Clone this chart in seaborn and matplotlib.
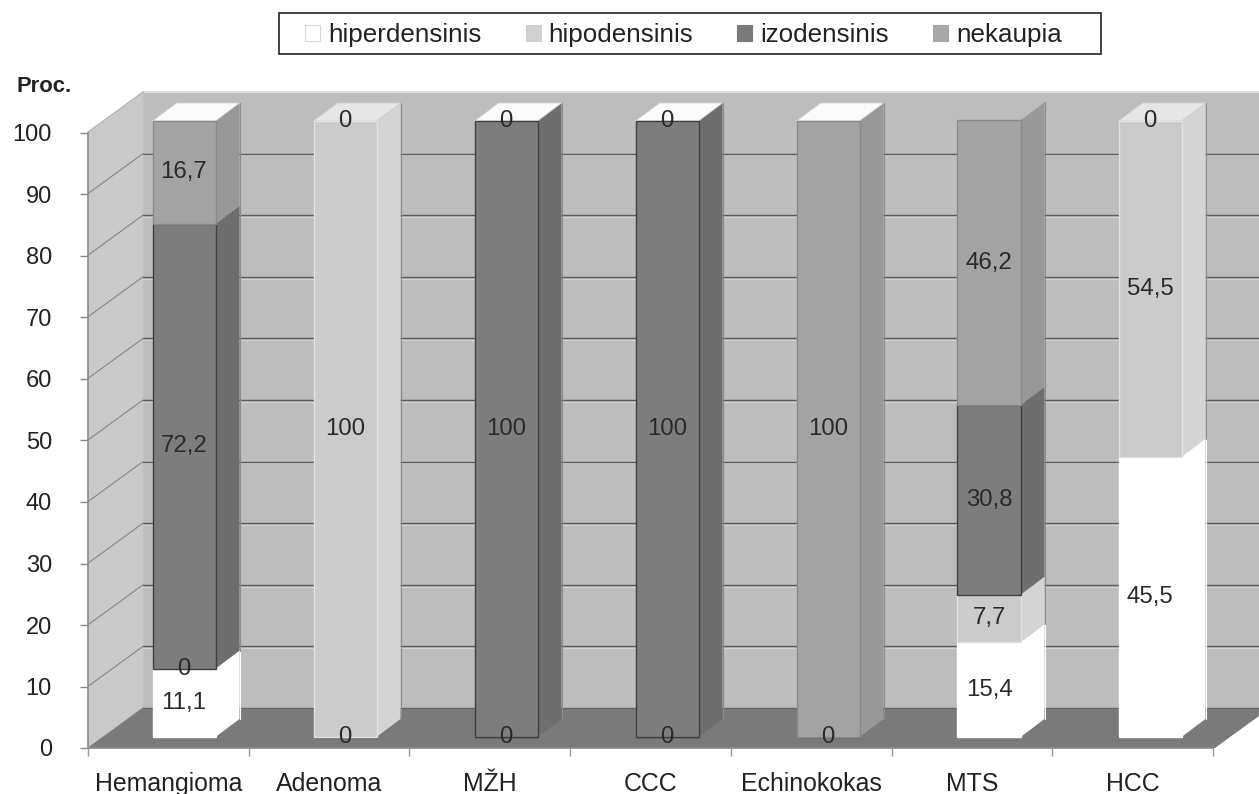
import seaborn as sns
import pandas as pd
import matplotlib.pyplot as plt
from matplotlib.patches import Patch, Rectangle

categories = ["Hemangioma", "Adenoma", "MŽH", "CCC", "Echinokokas", "MTS", "HCC"]
series_names = ["hiperdensinis", "hipodensinis", "izodensinis", "nekaupia"]

hiper = [11.1, 0, 0, 0, 0, 15.4, 45.5]
hipo = [0, 100, 0, 0, 0, 7.7, 54.5]
izo = [72.2, 0, 100, 100, 0, 30.8, 0]
neka = [16.7, 0, 0, 0, 100, 46.2, 0]

hiper_labels = ["11,1", "0", "0", "0", "0", "15,4", "45,5"]
hipo_labels = ["0", "100", "", "", "", "7,7", "54,5"]
izo_labels = ["72,2", "", "100", "100", "", "30,8", ""]
neka_labels = ["16,7", "0", "0", "0", "100", "46,2", "0"]

y_ticks = [0, 10, 20, 30, 40, 50, 60, 70, 80, 90, 100]

face_colors = ["#ffffff", "#cbcbcb", "#7d7d7d", "#a3a3a3"]
side_colors = ["#ffffff", "#d4d4d4", "#6e6e6e", "#989898"]
edge_colors = ["#ffffff", "#e2e2e2", "#404040", "#8a8a8a"]
cap_colors = ["#fbfbfb", "#e6e6e6", "#fbfbfb", "#fbfbfb"]

W, H = 1259, 794
PX_X = 161.0  # pixels per category
PX_Y = 6.16   # pixels per percent
Y0 = 737      # pixel row of the bars' zero line

sns.set_theme(style="white")
plt.rcParams["font.family"] = ["Liberation Sans", "DejaVu Sans"]

fig = plt.figure(figsize=(W / 100, H / 100), dpi=100, facecolor="white")
ax = fig.add_axes([0, 0, 1, 1], zorder=1)


def off(dx, dy):
    # depth offset in pixels -> data units
    return dx / PX_X, dy / PX_Y


bottoms = [0] * len(categories)
all_series = [hiper, hipo, izo, neka]
all_labels = [hiper_labels, hipo_labels, izo_labels, neka_labels]

for i, vals in enumerate(all_series):
    df = pd.DataFrame({"cat": categories, "val": vals})
    sns.barplot(data=df, x="cat", y="val", color=face_colors[i], saturation=1,
                width=63 / PX_X, bottom=bottoms, edgecolor=edge_colors[i],
                linewidth=1.0, ax=ax, zorder=3, errorbar=None)
    for j, v in enumerate(vals):
        if all_labels[i][j]:
            ax.text(j, bottoms[j] + v / 2, all_labels[i][j], ha="center", va="center",
                    fontsize=17.3, color="#2a2a2a", zorder=6)
    bottoms = [b + v for b, v in zip(bottoms, vals)]

# axes limits so that the bar plane lands on the right pixels
ax.set_xlim(-184 / PX_X, (W - 184) / PX_X)
ax.set_ylim(-(H - Y0) / PX_Y, Y0 / PX_Y)
ax.axis("off")

# walls and floor of the pseudo 3d box
fx, fy = off(-15.5, -11)
bx, by = off(39.5, 29)
x0 = -0.5 + fx
x1 = 6.5 + fx
wall_l = -0.5 + bx
wall_r = 6.5 + bx
ax.fill([wall_l, wall_r, wall_r, wall_l],
        [by, by, 100 + by, 100 + by], color="#bdbdbd", lw=0, zorder=1)
ax.fill([x0, wall_l, wall_l, x0],
        [fy, by, 100 + by, 100 + fy], color="#c9c9c9", lw=0, zorder=1)
ax.fill([x0, x1, wall_r, wall_l],
        [fy, fy, by, by], color="#7a7a7a", lw=0, zorder=1.5)
ax.plot([wall_l, wall_r], [100 + by, 100 + by], color="#dcdcdc", lw=1.5, zorder=1.6)
ax.plot([wall_l, wall_l], [by, 100 + by], color="#c0c0c0", lw=1, zorder=1.6)

for t in y_ticks[:-1]:
    if t > 0:
        ax.plot([wall_l, wall_r], [t + by, t + by], color="#5c5c5c", lw=1.0, zorder=1.8)
        ax.plot([wall_l, wall_r], [t + by - 0.3, t + by - 0.3], color="#d2d2d2", lw=0.8, zorder=1.7)
    ax.plot([x0, wall_l], [t + fy, t + by], color="#808080", lw=0.7, zorder=1.8)
ax.plot([x0, wall_l], [100 + fy, 100 + by], color="#b0b0b0", lw=0.8, zorder=1.8)
ax.plot([wall_l, wall_r], [by, by], color="#666666", lw=1.0, zorder=1.8)

# side and top faces of every bar, taken from the drawn patches
sx, sy = off(24, 18)
for i, cont in enumerate(ax.containers):
    for p in cont.patches:
        h = p.get_height()
        if h == 0:
            # only the zero of the first series shows as a line
            if i == 0:
                p.set_edgecolor("#333333")
            else:
                p.set_visible(False)
            continue
        r = p.get_x() + p.get_width()
        b = p.get_y()
        ax.fill([r, r + sx, r + sx, r], [b, b + sy, b + h + sy, b + h],
                color=side_colors[i], lw=0, zorder=2.8)
        ax.plot([r + sx, r + sx], [b + sy, b + h + sy], color="#8c8c8c" if i else "#ffffff", lw=0.8, zorder=2.9)
        if abs(b + h - 100) < 0.01:
            l = p.get_x()
            ax.fill([l, r, r + sx, l + sx], [100, 100, 100 + sy, 100 + sy],
                    facecolor=cap_colors[i], edgecolor="#cfcfcf", lw=0.6, zorder=2.9)

# front axis with the real ticks
ax_front = fig.add_axes([88 / W, (H - 748) / H, 1125 / W, 615 / H], zorder=2)
ax_front.patch.set_visible(False)
ax_front.set_xlim(-0.5, 6.5)
ax_front.set_ylim(0, 100)
ax_front.set_yticks(y_ticks)
ax_front.set_xticks(range(len(categories)))
ax_front.set_xticklabels(categories)
ax_front.set_xticks([k - 0.5 for k in range(8)], minor=True)
ax_front.tick_params(axis="y", left=True, length=6, width=1, color="#888888",
                     labelsize=17, labelcolor="#222222", pad=20)
ax_front.tick_params(axis="x", which="major", bottom=False, labelsize=17.9,
                     labelcolor="#222222", pad=11)
ax_front.tick_params(axis="x", which="minor", bottom=True, length=6, width=1, color="#999999")
for s in ["top", "right"]:
    ax_front.spines[s].set_visible(False)
for s in ["left", "bottom"]:
    ax_front.spines[s].set_color("#8a8a8a")
    ax_front.spines[s].set_linewidth(1.2)

fig.text(16 / W, 1 - 86 / H, "Proc.", fontsize=15.8, fontweight="bold", color="#222222",
         ha="left", va="center")

# legend
fig.patches.append(Rectangle((279 / W, 1 - 54 / H), 822 / W, 41 / H, transform=fig.transFigure,
                             facecolor="white", edgecolor="#222222", lw=1.2, figure=fig))
handles = [Patch(facecolor=c, edgecolor="#d8d8d8" if i == 0 else c, lw=0.8)
           for i, c in enumerate(["#ffffff", "#d0d0d0", "#7a7a7a", "#a8a8a8"])]
fig.legend(handles, series_names, ncol=4, mode="expand", frameon=False, fontsize=18.7,
           loc="lower left", bbox_to_anchor=(305 / W, 1 - 47 / H, 757 / W, 30 / H),
           bbox_transform=fig.transFigure, borderpad=0, borderaxespad=0,
           handlelength=0.58, handleheight=0.58, handletextpad=0.31, labelcolor="#222222")

plt.savefig("out.png", dpi=100)
